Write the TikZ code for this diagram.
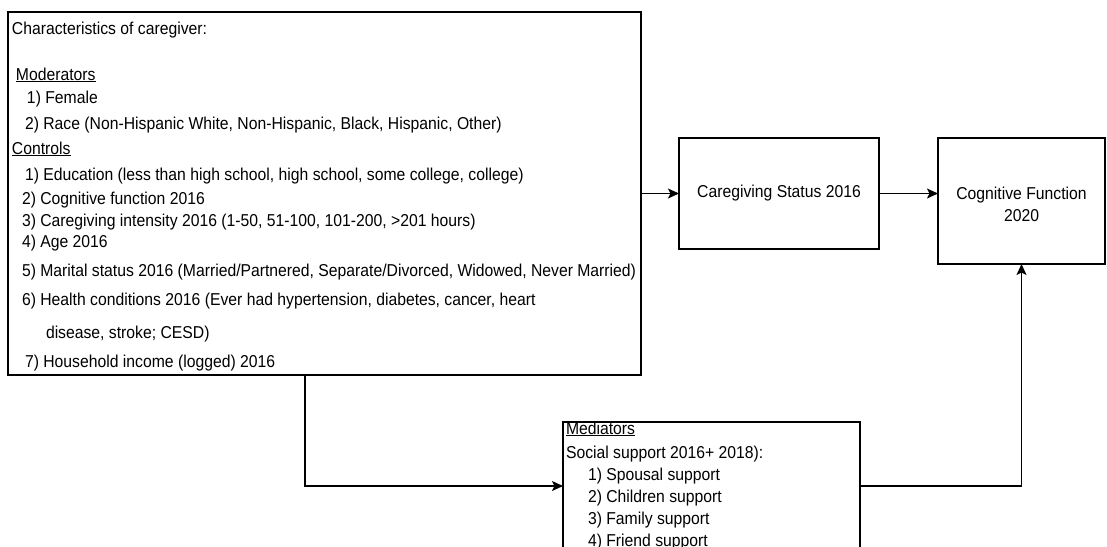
\documentclass[tikz,border=0pt]{standalone}
\usepackage{fontspec}
\setmainfont{Liberation Sans}
\newfontfamily\diagfont[FakeStretch=0.915]{Liberation Sans}
\usetikzlibrary{arrows.meta}
\begin{document}
\begin{tikzpicture}[x=1pt,y=-1pt,
  every node/.style={font=\diagfont\fontsize{17.2}{20}\selectfont, inner sep=0pt, outer sep=0pt},
  boxnode/.style={draw=black, line width=1.3pt, inner sep=0pt},
  txt/.style={anchor=base west},
  link/.style={draw=black, line width=1.3pt, -{Stealth[length=11pt,width=10pt,inset=2.5pt]}}]
\useasboundingbox (0,0) rectangle (1107,546);
\clip (0,0) rectangle (1107,546);
% boxes
\node[boxnode, anchor=north west, minimum width=633pt, minimum height=363pt] (chars) at (8,12) {};
\node[boxnode, anchor=north west, minimum width=200pt, minimum height=111pt] (cgs) at (679,138) {};
\node[anchor=center] (cgstxt) at (cgs.center) {Caregiving Status 2016};
\node[boxnode, anchor=north west, minimum width=167pt, minimum height=126pt] (cog) at (938,138) {};
\node[align=center, anchor=center] (cogtxt) at ([yshift=-3pt]cog.center) {Cognitive Function\\[2pt]2020};
\node[boxnode, anchor=north west, minimum width=297pt, minimum height=128pt] (med) at (563,422) {};
% characteristics text (baseline = centre + 6)
\node[txt] (l1) at (12,34) {Characteristics of caregiver:};
\node[txt] (l2) at (16,80) {\underline{Moderators}};
\node[txt] (l3) at (27,103) {1) Female};
\node[txt] (l4) at (25,129) {2) Race (Non-Hispanic White, Non-Hispanic, Black, Hispanic, Other)};
\node[txt] (l5) at (12,154) {\underline{Controls}};
\node[txt] (l6) at (25,180) {1) Education (less than high school, high school, some college, college)};
\node[txt] (l7) at (22,204) {2) Cognitive function 2016};
\node[txt] (l8) at (22,226) {3) Caregiving intensity 2016 (1-50, 51-100, 101-200, >201 hours)};
\node[txt] (l9) at (22,247) {4) Age 2016};
\node[txt] (l10) at (22,276) {5) Marital status 2016 (Married/Partnered, Separate/Divorced, Widowed, Never Married)};
\node[txt] (l11) at (22,305) {6) Health conditions 2016 (Ever had hypertension, diabetes, cancer, heart};
\node[txt] (l12) at (46,338) {disease, stroke; CESD)};
\node[txt] (l13) at (25,367) {7) Household income (logged) 2016};
% mediators text
\node[txt] (m1) at (566,434) {\underline{Mediators}};
\node[txt] (m2) at (566,458) {Social support 2016+ 2018):};
\node[txt] (m3) at (588,480) {1) Spousal support};
\node[txt] (m4) at (588,502) {2) Children support};
\node[txt] (m5) at (588,524) {3) Family support};
\node[txt] (m6) at (588,546) {4) Friend support};
% connectors
\coordinate (bend1) at (305,375);
\draw[link] (chars.east) -- (cgs.west);
\draw[link] (cgs.east) -- (cgs.east -| cog.west);
\draw[link] (med.east) -| (cog.south);
\draw[link] (chars.south -| bend1) |- (med.west);
\end{tikzpicture}
\end{document}
